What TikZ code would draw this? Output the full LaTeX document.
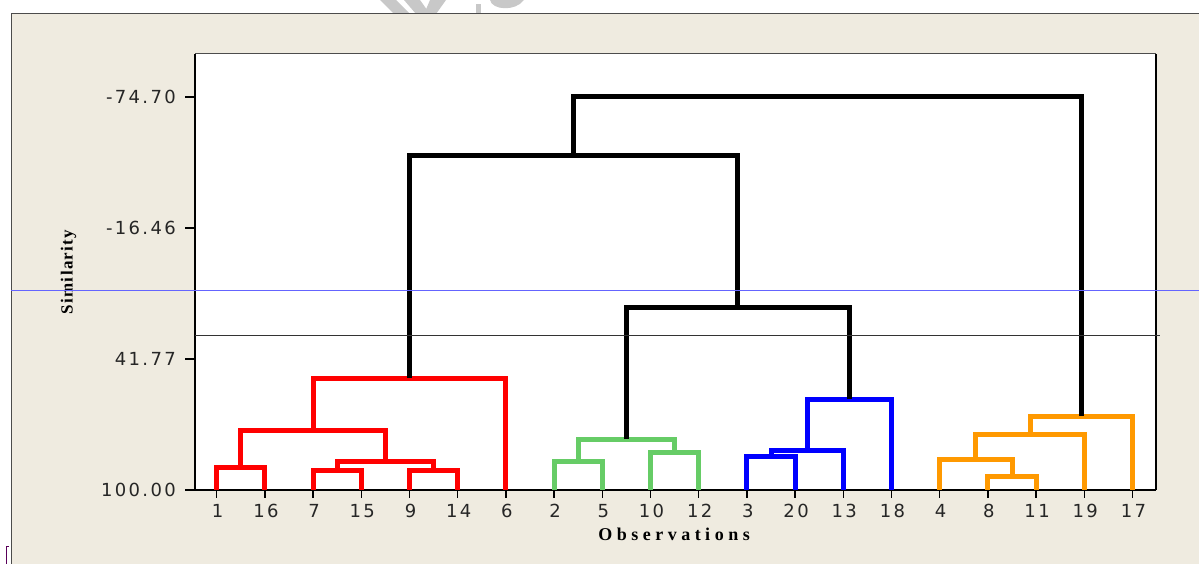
\documentclass[tikz,border=0pt]{standalone}
\usepackage{fontspec}
\newfontfamily\tickfont[LetterSpace=13]{DejaVu Sans}
\newfontfamily\obsfont[LetterSpace=25]{Liberation Serif}
\newfontfamily\simfont[LetterSpace=8]{Liberation Serif}
\definecolor{panel}{RGB}{239,235,224}
\definecolor{dred}{RGB}{255,0,0}
\definecolor{dgreen}{RGB}{102,204,102}
\definecolor{dblue}{RGB}{0,0,255}
\definecolor{dorange}{RGB}{255,153,0}
\definecolor{refblue}{RGB}{100,100,255}
\definecolor{wmark}{RGB}{200,200,200}
\tikzset{
  tree/.style={line width=5pt, line join=miter, line cap=butt},
  ticklab/.style={font=\tickfont\fontsize{18}{20}\selectfont, text=black!85},
  tick/.style={line width=1.3pt},
}
\begin{document}
\begin{tikzpicture}[x=1pt,y=-1pt]
\useasboundingbox (0,0) rectangle (1199,564);
% watermark fragments
\fill[wmark] (380,0) -- (396,0) -- (410,14) -- (394,14) -- cycle;
\fill[wmark] (404,0) -- (420,0) -- (430,14) -- (416,14) -- cycle;
\fill[wmark] (430,0) -- (446,0) -- (436,14) -- (424,14) -- cycle;
\fill[wmark] (476,4) rectangle (481,14);
\fill[wmark] (490,0) .. controls (492,10) and (515,12) .. (524,0) -- cycle;
% panel
\fill[panel] (11,14) rectangle (1199,564);
\draw[line width=1pt, black!70] (1199,14) -- (11,14) -- (11,564);
% little mark bottom-left
\draw[line width=1pt, violet!70!black] (9,546) -- (6,546) -- (6,564);
% plot area
\fill[white] (195,54) rectangle (1156,490);
\draw[line width=1pt, black!70] (195,54) -- (1156,54);
\draw[line width=2pt] (195,54) -- (195,490) -- (1156,490);
\draw[line width=2pt] (1156,54) -- (1156,490);
% y ticks
\foreach \y/\t [count=\k] in {97/-74.70,228/-16.46,359/41.77,490/100.00}{
  \draw[tick] (185,\y) -- (195,\y);
  \node[ticklab, anchor=east, inner sep=0pt] (yl\k) at (176,\y) {\t};
}
% x ticks
\foreach \t [count=\k from 0] in {1,16,7,15,9,14,6,2,5,10,12,3,20,13,18,4,8,11,19,17}{
  \pgfmathsetmacro{\xx}{216.7+48.2*\k}
  \draw[tick] (\xx,490) -- (\xx,498);
  \node[ticklab, anchor=base, inner sep=0pt] (xl\k) at (\xx+1,517) {\t};
}
\node[font=\obsfont\bfseries\fontsize{18}{20}\selectfont, inner sep=0pt] (obs) at (674,534) {Observations};
\node[font=\simfont\bfseries\fontsize{17}{19}\selectfont, inner sep=0pt, rotate=90] (sim) at (68.5,272) {Similarity};
% red cluster
\begin{scope}[tree, dred]
\draw (216.7,490) -- (216.7,467) -- (264.9,467) -- (264.9,490);
\draw (313.1,490) -- (313.1,470) -- (361.3,470) -- (361.3,490);
\draw (409.5,490) -- (409.5,470) -- (457.7,470) -- (457.7,490);
\draw (337.2,470) -- (337.2,461) -- (433.6,461) -- (433.6,470);
\draw (240.8,467) -- (240.8,430) -- (385.4,430) -- (385.4,461);
\draw (313.1,430) -- (313.1,378) -- (505.9,378) -- (505.9,490);
\end{scope}
% green cluster
\begin{scope}[tree, dgreen]
\draw (554.1,490) -- (554.1,461) -- (602.3,461) -- (602.3,490);
\draw (650.5,490) -- (650.5,452) -- (698.7,452) -- (698.7,490);
\draw (578.2,461) -- (578.2,439) -- (674.6,439) -- (674.6,452);
\end{scope}
% blue cluster
\begin{scope}[tree, dblue]
\draw (746.9,490) -- (746.9,456) -- (795.1,456) -- (795.1,490);
\draw (771,456) -- (771,450) -- (843.3,450) -- (843.3,490);
\draw (807.2,450) -- (807.2,399) -- (891.5,399) -- (891.5,490);
\end{scope}
% orange cluster
\begin{scope}[tree, dorange]
\draw (987.9,490) -- (987.9,476) -- (1036.1,476) -- (1036.1,490);
\draw (939.7,490) -- (939.7,459) -- (1012,459) -- (1012,476);
\draw (975.9,459) -- (975.9,434) -- (1084.3,434) -- (1084.3,490);
\draw (1030.1,434) -- (1030.1,416) -- (1132.5,416) -- (1132.5,490);
\end{scope}
% black upper links
\begin{scope}[tree, black]
\draw (626.4,439) -- (626.4,307) -- (849.3,307) -- (849.3,399);
\draw (409.5,378) -- (409.5,156) -- (737.9,156) -- (737.9,307);
\draw (573.7,156) -- (573.7,97) -- (1081.3,97) -- (1081.3,416);
\end{scope}
% reference lines
\draw[line width=1pt, black!80] (195,335) -- (1160,335);
\draw[line width=1.2pt, refblue] (11,290.5) -- (1199,290.5);
\end{tikzpicture}
\end{document}
